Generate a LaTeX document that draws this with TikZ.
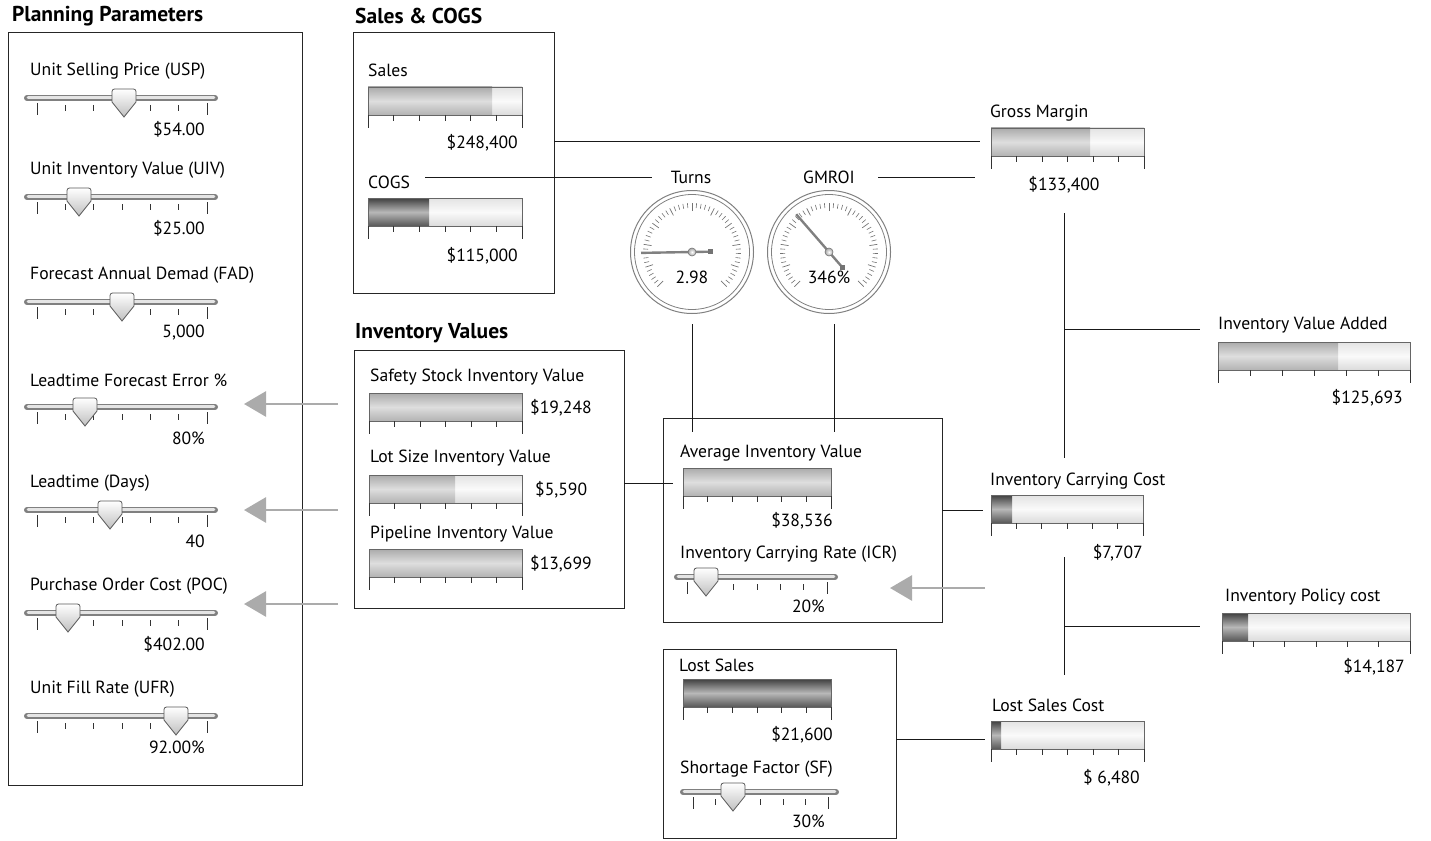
\documentclass[tikz,border=0pt]{standalone}
\usepackage{fontspec}
\setmainfont{PT Sans}
\usetikzlibrary{arrows.meta}
\tikzset{
  x=1pt, y=-1pt,
  box/.style={draw=black!85, line width=0.9pt},
  conn/.style={draw=black!90, line width=0.8pt},
  lbl/.style={anchor=west, inner sep=0pt, font=\fontsize{17.6}{19}\selectfont},
  valr/.style={anchor=east, inner sep=0pt, font=\fontsize{17.6}{19}\selectfont},
  vall/.style={anchor=west, inner sep=0pt, font=\fontsize{17.6}{19}\selectfont},
  valc/.style={anchor=center, inner sep=0pt, font=\fontsize{17.6}{19}\selectfont},
  ttl/.style={anchor=west, inner sep=0pt, font=\fontsize{21.5}{23}\selectfont\bfseries},
  barframe/.style={draw=black!60, line width=0.8pt},
  barempty/.style={top color=black!11, bottom color=black!14, middle color=black!2},
  barmid/.style={top color=black!33, bottom color=black!30, middle color=black!13},
  bardark/.style={top color=black!75, bottom color=black!66, middle color=black!28},
  tickmark/.style={draw=black!80, line width=0.8pt},
  garrow/.style={draw=black!33, line width=2.8pt, -{Triangle[length=22pt,width=25pt]}},
}
% bar: x1, y1, x2, xfill, fill style
\newcommand{\mybar}[5]{%
  \shade[barempty] (#1,#2) rectangle (#3,{#2+28});
  \shade[#5] (#1,#2) rectangle (#4,{#2+28});
  \draw[barframe] (#1,#2) rectangle (#3,{#2+28});
  \foreach \i in {1,...,5} \draw[tickmark] ({#1+(#3-#1)*\i/6},{#2+28}) -- ++(0,6);
  \draw[tickmark] (#1,{#2+28}) -- ++(0,13);
  \draw[tickmark] (#3,{#2+28}) -- ++(0,13);
}
% slider: x1, x2, y, thumb x
\newcommand{\myslider}[4]{%
  \draw[line width=6pt, black!50, line cap=round] (#1,#3) -- (#2,#3);
  \draw[line width=2.6pt, black!10, line cap=round] ({#1+1},{#3-0.6}) -- ({#2-1},{#3-0.6});
  \foreach \i in {1,...,5} \draw[tickmark] ({#1+10+(#2-#1-18)*\i/6},{#3+7}) -- ++(0,6);
  \draw[tickmark] ({#1+10},{#3+5}) -- ++(0,12);
  \draw[tickmark] ({#2-8},{#3+5}) -- ++(0,12);
  \shadedraw[top color=white, bottom color=black!25, draw=black!65, line width=0.8pt]
    ({#4-12},{#3+4}) [rounded corners=2.5pt] -- ({#4-12},{#3-9}) -- ({#4+12},{#3-9})
    [sharp corners] -- ({#4+12},{#3+4}) -- (#4,{#3+19}) -- cycle;
}
% gauge: cx, cy, needle angle, tip length, tail length
\newcommand{\mygauge}[5]{%
  \draw[black!50, line width=1pt] (#1,#2) circle (61.5);
  \draw[black!50, line width=0.8pt] (#1,#2) circle (57.5);
  \foreach \k in {0,...,50} {
    \pgfmathsetmacro{\ang}{225-\k*5.4}
    \pgfmathtruncatemacro{\mj}{mod(\k,5)}
    \ifnum\mj=0
      \draw[black!55, line width=0.7pt] ({#1+41*cos(\ang)},{#2-41*sin(\ang)}) -- ({#1+49*cos(\ang)},{#2-49*sin(\ang)});
    \else
      \draw[black!55, line width=0.6pt] ({#1+44*cos(\ang)},{#2-44*sin(\ang)}) -- ({#1+49*cos(\ang)},{#2-49*sin(\ang)});
    \fi
  }
  \draw[black!50, line width=2.4pt] ({#1+#4*cos(#3)},{#2-#4*sin(#3)}) -- ({#1-#5*cos(#3)},{#2+#5*sin(#3)});
  \fill[black!55] ({#1-#5*cos(#3)-2.5},{#2+#5*sin(#3)-2.5}) rectangle ++(5,5);
  \shadedraw[inner color=white, outer color=black!35, draw=black!55, line width=0.6pt] (#1,#2) circle (4);
}
\begin{document}
\begin{tikzpicture}
\useasboundingbox (0,0) rectangle (1431,840);

% ---------- titles ----------
\node[ttl] (tpp) at (12,16) {Planning Parameters};
\node[ttl] (tsc) at (355,16) {Sales \& COGS};
\node[ttl] (tiv) at (355,333) {Inventory Values};

% ---------- boxes ----------
\draw[box] (8,32) rectangle (302,785);
\draw[box] (353,32) rectangle (554,293);
\draw[box] (354,350) rectangle (624,608);
\draw[box] (663,418) rectangle (942,622);
\draw[box] (663,649) rectangle (896,838);

% ---------- planning parameters ----------
\node[lbl] (l1) at (30,71) {Unit Selling Price (USP)};
\myslider{27}{215}{98}{124}
\node[valr] (v1) at (205,129) {\$54.00};

\node[lbl] (l2) at (30,170) {Unit Inventory Value (UIV)};
\myslider{27}{215}{197}{79}
\node[valr] (v2) at (205,228) {\$25.00};

\node[lbl] (l3) at (30,275) {Forecast Annual Demad (FAD)};
\myslider{27}{215}{302}{122}
\node[valr] (v3) at (205,333) {5,000};

\node[lbl] (l4) at (30,380) {Leadtime Forecast Error \%};
\myslider{27}{215}{407}{85}
\node[valr] (v4) at (205,438) {80\%};

\node[lbl] (l5) at (30,483) {Leadtime (Days)};
\myslider{27}{215}{510}{110}
\node[valr] (v5) at (205,541) {40};

\node[lbl] (l6) at (30,586) {Purchase Order Cost (POC)};
\myslider{27}{215}{613}{68}
\node[valr] (v6) at (205,644) {\$402.00};

\node[lbl] (l7) at (30,689) {Unit Fill Rate (UFR)};
\myslider{27}{215}{716}{176}
\node[valr] (v7) at (205,747) {92.00\%};

% ---------- sales & cogs ----------
\node[lbl] (lsales) at (368,70) {Sales};
\mybar{368}{87}{522}{492}{barmid}
\node[valr] (vsales) at (518,143) {\$248,400};
\node[lbl] (lcogs) at (368,182) {COGS};
\mybar{368}{198}{522}{429}{bardark}
\node[valr] (vcogs) at (518,256) {\$115,000};

% ---------- gauges ----------
\node[valc] (lturns) at (691,177) {Turns};
\node[valc] (lgmroi) at (829,177) {GMROI};
\mygauge{692}{252}{181}{51}{18}
\mygauge{829}{252}{131}{50}{20}
\node[valc] (vturns) at (692,277) {2.98};
\node[valc] (vgmroi) at (829,277) {346\%};

% ---------- inventory values ----------
\node[lbl] (lss) at (370,377) {Safety Stock Inventory Value};
\mybar{369}{393}{522}{522}{barmid}
\node[vall] (vss) at (530,408) {\$19,248};
\node[lbl] (lls) at (370,458) {Lot Size Inventory Value};
\mybar{369}{475}{522}{455}{barmid}
\node[vall] (vls) at (535,490) {\$5,590};
\node[lbl] (lpi) at (370,534) {Pipeline Inventory Value};
\mybar{369}{549}{522}{522}{barmid}
\node[vall] (vpi) at (530,564) {\$13,699};

% ---------- average inventory ----------
\node[lbl] (lai) at (680,453) {Average Inventory Value};
\mybar{683}{468}{831}{831}{barmid}
\node[valr] (vai) at (833,521) {\$38,536};
\node[lbl] (licr) at (680,554) {Inventory Carrying Rate (ICR)};
\myslider{677}{835}{577}{706}
\node[valr] (vicr) at (825,606) {20\%};

% ---------- lost sales ----------
\node[lbl] (llsl) at (679,665) {Lost Sales};
\mybar{683}{679}{831}{831}{bardark}
\node[valr] (vlsl) at (833,735) {\$21,600};
\node[lbl] (lsf) at (680,769) {Shortage Factor (SF)};
\myslider{683}{836}{792}{733}
\node[valr] (vsf) at (825,821) {30\%};

% ---------- right column ----------
\node[lbl] (lgm) at (990,113) {Gross Margin};
\mybar{991}{128}{1144}{1090}{barmid}
\node[valc] (vgm) at (1064,185) {\$133,400};

\node[lbl] (liva) at (1218,325) {Inventory Value Added};
\mybar{1218}{342}{1410}{1338}{barmid}
\node[valr] (viva) at (1403,398) {\$125,693};

\node[lbl] (licc) at (990,481) {Inventory Carrying Cost};
\mybar{991}{495}{1143}{1012}{bardark}
\node[valr] (vicc) at (1143,553) {\$7,707};

\node[lbl] (lipc) at (1225,597) {Inventory Policy cost};
\mybar{1222}{613}{1410}{1248}{bardark}
\node[valr] (vipc) at (1405,667) {\$14,187};

\node[lbl] (llsc) at (992,705) {Lost Sales Cost};
\mybar{991}{721}{1144}{1001}{bardark}
\node[valr] (vlsc) at (1140,778) {\$ 6,480};

% ---------- connector coordinates ----------
\coordinate (sc-e) at (554,141);  \coordinate (gm-w) at (980,141);
\coordinate (cogs-e) at (425,177); \coordinate (turns-w) at (652,177);
\coordinate (gmroi-e) at (878,177); \coordinate (gm-w2) at (975,177);
\coordinate (turns-s) at (692,324); \coordinate (ai-n1) at (692,432);
\coordinate (gmroi-s) at (834,324); \coordinate (ai-n2) at (834,432);
\coordinate (iv-e) at (624,483); \coordinate (ai-w) at (673,483);
\coordinate (ai-e) at (942,510); \coordinate (icc-w) at (983,510);
\coordinate (ls-e) at (896,739); \coordinate (lsc-w) at (985,739);
\coordinate (gm-s) at (1064,213); \coordinate (icc-n) at (1064,458);
\coordinate (j1) at (1064,329); \coordinate (iva-w) at (1200,329);
\coordinate (icc-s) at (1064,557); \coordinate (lsc-n) at (1064,675);
\coordinate (j2) at (1064,626); \coordinate (ipc-w) at (1200,626);

\draw[conn] (sc-e) -- (gm-w);
\draw[conn] (cogs-e) -- (turns-w);
\draw[conn] (gmroi-e) -- (gm-w2);
\draw[conn] (turns-s) -- (ai-n1);
\draw[conn] (gmroi-s) -- (ai-n2);
\draw[conn] (iv-e) -- (ai-w);
\draw[conn] (ai-e) -- (icc-w);
\draw[conn] (ls-e) -- (lsc-w);
\draw[conn] (gm-s) -- (icc-n);
\draw[conn] (j1) -- (iva-w);
\draw[conn] (icc-s) -- (lsc-n);
\draw[conn] (j2) -- (ipc-w);

% ---------- gray arrows ----------
\coordinate (a1s) at (338,404); \coordinate (a1e) at (244,404);
\coordinate (a2s) at (338,510); \coordinate (a2e) at (244,510);
\coordinate (a3s) at (338,604); \coordinate (a3e) at (244,604);
\coordinate (a4s) at (985,588); \coordinate (a4e) at (890,588);
\draw[garrow] (a1s) -- (a1e);
\draw[garrow] (a2s) -- (a2e);
\draw[garrow] (a3s) -- (a3e);
\draw[garrow] (a4s) -- (a4e);
\end{tikzpicture}
\end{document}
